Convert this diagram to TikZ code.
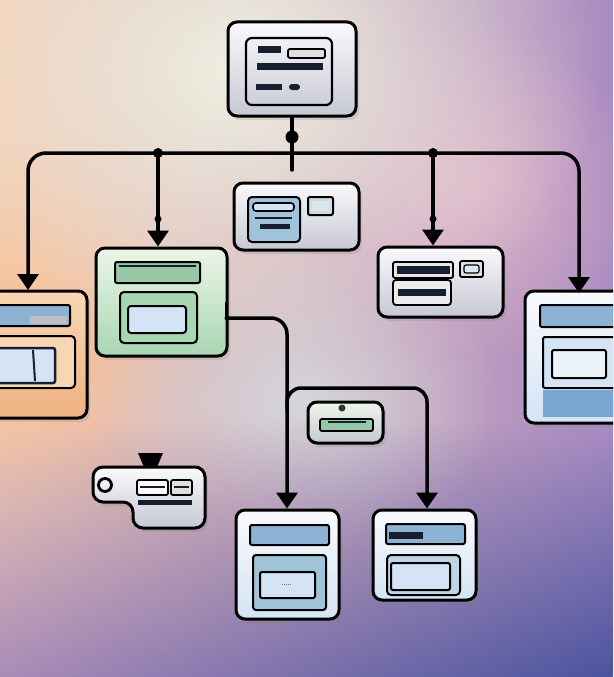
\documentclass[tikz,border=0pt]{standalone}
\usetikzlibrary{arrows.meta,shadows,fadings}
\definecolor{bgL}{RGB}{244,204,178}
\definecolor{bgM}{RGB}{222,222,222}
\definecolor{bgR}{RGB}{170,140,195}
\definecolor{bgT}{RGB}{238,240,226}
\definecolor{bgC}{RGB}{214,214,220}
\definecolor{bgBL}{RGB}{170,140,185}
\definecolor{bgBR}{RGB}{75,84,158}
\definecolor{peachglow}{RGB}{248,192,150}
\definecolor{pinkglow}{RGB}{222,178,200}
\definecolor{navy}{RGB}{22,30,48}
\definecolor{boxT}{RGB}{250,250,252}
\definecolor{boxB}{RGB}{198,200,212}
\definecolor{gT}{RGB}{236,246,232}
\definecolor{gB}{RGB}{168,214,178}
\definecolor{gbar}{RGB}{150,200,165}
\definecolor{gpanel}{RGB}{165,215,180}
\definecolor{midblue}{RGB}{160,195,218}
\definecolor{barblue}{RGB}{140,178,212}
\definecolor{lightblue}{RGB}{212,228,244}
\definecolor{deepblue}{RGB}{120,165,210}
\definecolor{pT}{RGB}{248,214,178}
\definecolor{pB}{RGB}{238,178,130}
\tikzfading[name=fadeup, top color=transparent!100, bottom color=transparent!0]
\tikzfading[name=softglow, inner color=transparent!0, outer color=transparent!100]
\tikzset{
  box/.style={draw=black, line width=3pt, rounded corners=9pt, top color=boxT, bottom color=boxB,
    drop shadow={opacity=0.22, shadow xshift=3pt, shadow yshift=-4pt}},
  conn/.style={draw=black, line width=3.5pt, line cap=round},
  tipped/.style={-{Triangle[width=21pt,length=16pt]}},
  ib/.style={draw=black, line width=2pt, rounded corners=2pt}
}
\begin{document}
\begin{tikzpicture}[x=1pt,y=-1pt]
\useasboundingbox (0,0) rectangle (613,677);
\clip (0,0) rectangle (613,677);
% background
\shade[left color=bgL, middle color=bgM, right color=bgR] (0,0) rectangle (613,677);
\fill[pinkglow, path fading=softglow] (470,190) circle (170pt);
\fill[peachglow, path fading=softglow] (10,330) circle (190pt);
\fill[bgC, path fading=softglow] (300,400) ellipse (200pt and 160pt);
\fill[bgT, path fading=softglow] (240,70) ellipse (360pt and 300pt);
\shade[left color=bgBL, right color=bgBR, path fading=fadeup] (0,420) rectangle (613,677);

% boxes
\node[box, minimum width=128pt, minimum height=94pt] (top) at (292,69) {};
\node[box, minimum width=125pt, minimum height=67pt] (mid) at (296.5,216.5) {};
\node[box, top color=gT, bottom color=gB, minimum width=131pt, minimum height=108pt] (green) at (161.5,302) {};
\node[box, minimum width=125pt, minimum height=70pt] (rmid) at (440.5,282) {};
\node[box, top color=boxT, bottom color=lightblue, minimum width=120pt, minimum height=132pt] (right) at (585,357) {};
\node[box, top color=pT, bottom color=pB, minimum width=130pt, minimum height=127pt] (left) at (22,354.5) {};
\node[box, top color=gT, bottom color=boxB, minimum width=75pt, minimum height=41pt] (sgreen) at (345.5,422.5) {};
\node[box, top color=boxT, bottom color=lightblue, minimum width=103pt, minimum height=109pt] (bl) at (287.5,564.5) {};
\node[box, top color=boxT, bottom color=lightblue, minimum width=103pt, minimum height=90pt] (br) at (424.5,555) {};

% odd box
\fill[black] (138,453) -- (163,453) -- (157,467) -- (144,467) -- cycle;
\draw[draw=black, line width=3pt, rounded corners=10pt, top color=boxT, bottom color=boxB,
  drop shadow={opacity=0.22, shadow xshift=3pt, shadow yshift=-4pt}]
  (93,467) -- (205,467) -- (205,528) -- (133,528) -- (133,502) -- (93,502) -- cycle;
\draw[line width=2.8pt] (105,485) circle (6.5pt);
\draw[ib, fill=boxT, line width=1.8pt] (137,480) rectangle (168,495);
\draw[navy, line width=1.6pt] (140,487) -- (165,487);
\draw[ib, fill=gray!25, line width=1.8pt] (171,480) rectangle (192,495);
\draw[navy, line width=1.4pt] (174,487) -- (189,487);
\fill[navy] (138,500) rectangle (192,505);

% top box interior
\draw[ib, line width=2.2pt, rounded corners=6pt] (246,38) rectangle (332,105);
\fill[navy] (258,46) rectangle (281,53);
\draw[ib, fill=gray!25, line width=1.8pt] (288,49) rectangle (325,58);
\fill[navy] (257,63) rectangle (323,70);
\fill[navy] (256,84) rectangle (282,90);
\fill[navy, rounded corners=3pt] (289,84) rectangle (300,90);

% mid box interior
\draw[ib, fill=midblue, rounded corners=4pt] (248,197) rectangle (300,242);
\draw[ib, fill=lightblue, line width=1.6pt, rounded corners=3pt] (253,203) rectangle (294,211);
\draw[navy, line width=1.5pt] (255,218) -- (292,218);
\fill[navy] (260,224) rectangle (290,229);
\draw[ib, fill=gray!30] (308,197) rectangle (333,215);
\fill[white!60!midblue] (312,201) rectangle (329,211);

% green box interior
\draw[ib, fill=gbar] (115,262) rectangle (200,283);
\draw[navy, line width=1.5pt] (119,266) -- (196,266);
\draw[ib, fill=gpanel, rounded corners=4pt] (120,292) rectangle (197,343);
\draw[ib, fill=lightblue, rounded corners=3pt] (128,306) rectangle (186,333);

% right-middle box interior
\draw[ib, fill=gray!20, line width=1.8pt] (393,262) rectangle (453,278);
\fill[navy] (397,266) rectangle (450,274);
\draw[ib, fill=gray!25, line width=1.8pt] (460,261) rectangle (483,277);
\draw[ib, fill=white!60!midblue, line width=1.2pt] (464,265) rectangle (479,273);
\draw[ib, fill=gray!15, line width=1.8pt, rounded corners=3pt] (393,280) rectangle (451,305);
\fill[navy] (398,289) rectangle (446,296);

% right box interior
\draw[ib, fill=barblue] (540,305) rectangle (625,327);
\fill[deepblue] (543,390) rectangle (625,417);
\draw[ib, fill=lightblue] (543,337) rectangle (625,388);
\draw[ib, fill=white!50!lightblue] (552,350) rectangle (606,378);

% left box interior
\draw[ib, fill=barblue] (-10,305) rectangle (70,326);
\fill[gray!50] (30,316) rectangle (67,324);
\draw[ib, fill=pT, rounded corners=4pt] (-10,336) rectangle (75,388);
\draw[ib, draw=navy, fill=lightblue, line width=2.5pt] (-10,348) rectangle (55,383);
\draw[navy, line width=2pt] (33,350) -- (35,381);

% small green box interior
\draw[ib, fill=gbar, line width=1.8pt] (320,419) rectangle (373,431);
\draw[navy, line width=1.2pt] (328,422) -- (366,422);
\fill[black!80] (342,408) circle (3.5pt);

% bottom-left interior
\draw[ib, fill=barblue] (250,525) rectangle (329,545);
\draw[ib, fill=midblue, rounded corners=3pt] (253,555) rectangle (326,610);
\draw[ib, fill=lightblue] (260,572) rectangle (315,598);
\draw[navy!60, line width=0.8pt, dash pattern=on 1pt off 1pt] (282,584) -- (292,584);

% bottom-right interior
\draw[ib, fill=barblue] (386,524) rectangle (465,544);
\fill[navy] (389,532) rectangle (423,539);
\draw[ib, fill=midblue!70, rounded corners=4pt] (387,555) rectangle (460,595);
\draw[ib, fill=lightblue] (391,563) rectangle (450,590);

% connector coordinates
\coordinate (j0) at (292,153);
\coordinate (j0e) at (292,170);
\coordinate (j1) at (158,153);
\coordinate (j2) at (433,153);
\coordinate (aL) at (28,290);
\coordinate (aR) at (579,293);
\coordinate (g1) at (226,318);
\coordinate (k1) at (287,410);
\coordinate (k2) at (427,388);

% connectors
\draw[conn] (top.south) -- (j0e);
\fill (292,137) circle (6.5pt);
\draw[conn, tipped, rounded corners=18pt] (j0) -| (aL);
\draw[conn, tipped, rounded corners=18pt] (j0) -| (aR);
\draw[conn, tipped] (j1) -- (green.north -| j1);
\draw[conn, tipped] (j2) -- (rmid.north -| j2);
\fill (j1) circle (5pt);
\fill (j2) circle (5pt);
\fill (158,219) circle (3.5pt);
\fill (433,219) circle (3.5pt);
\draw[conn, tipped, rounded corners=16pt] (g1) -| (bl.north -| k1);
\draw[line width=3pt] (226,302) -- (226,320);
\draw[conn, tipped, rounded corners=14pt] (k1) |- (k2) -- (br.north -| k2);
\end{tikzpicture}
\end{document}
